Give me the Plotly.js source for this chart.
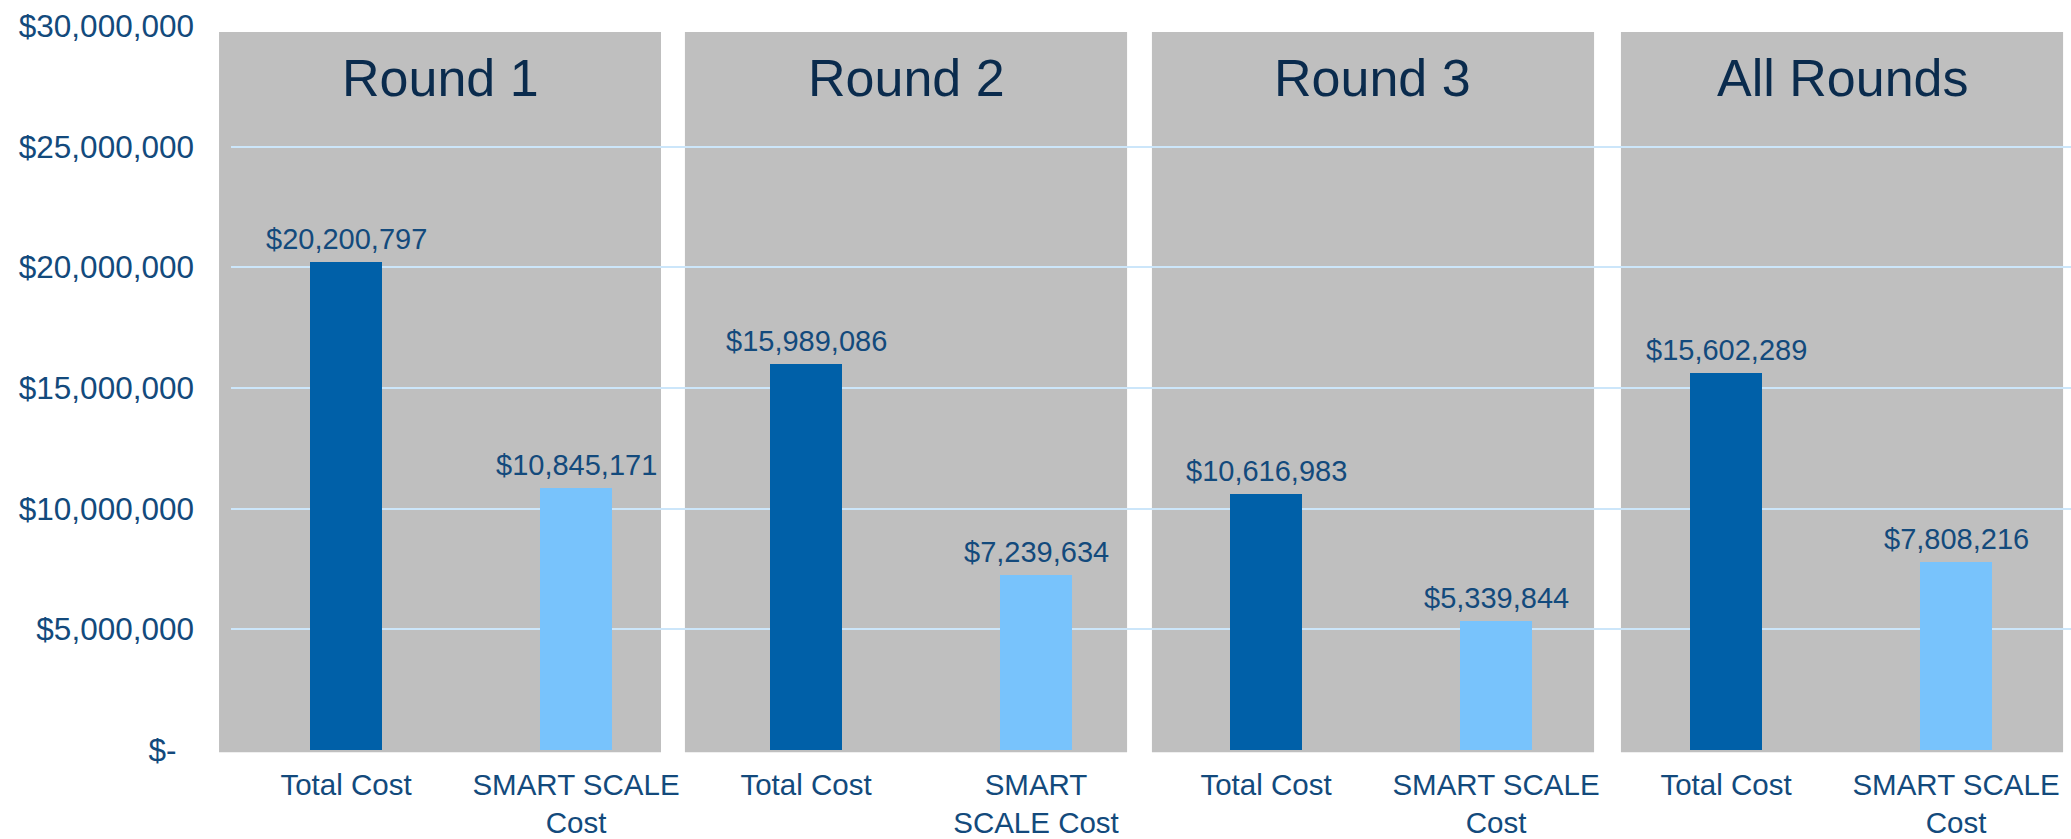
<!DOCTYPE html>
<html>
<head>
<meta charset="utf-8">
<script src="https://cdn.plot.ly/plotly-3.0.1.min.js"></script>
<style>
  html, body { margin: 0; padding: 0; background: #ffffff; }
  #chart { width: 2071px; height: 839px; }
</style>
</head>
<body>
<div id="chart"></div>
<script>
// ---- data ----
const rounds = ['Round 1', 'Round 2', 'Round 3', 'All Rounds'];
const totalCost = [20200797, 15989086, 10616983, 15602289];
const smartScaleCost = [10845171, 7239634, 5339844, 7808216];
const totalLabels = ['Total Cost', 'Total Cost', 'Total Cost', 'Total Cost'];
const smartLabels = ['SMART SCALE<br>Cost', 'SMART<br>SCALE Cost', 'SMART SCALE<br>Cost', 'SMART SCALE<br>Cost'];
const yTickVals = [0, 5000000, 10000000, 15000000, 20000000, 25000000, 30000000];
const yTickText = ['$-\u00a0\u00a0', '$5,000,000', '$10,000,000', '$15,000,000', '$20,000,000', '$25,000,000', '$30,000,000'];

// ---- style ----
const FONT = '"Liberation Sans", Arial, sans-serif';
const C_TOTAL = '#0060a8';
const C_SMART = '#78c3fc';
const C_PANEL = '#bfbfbf';
const C_GRID = '#cce6fa';
const C_TEXT = '#134a7c';
const C_TITLE = '#0a2b4d';

const fmt = v => '$' + v.toLocaleString('en-US');

const xTotal = rounds.map((_, i) => 2 * i);
const xSmart = rounds.map((_, i) => 2 * i + 1);

const traces = [
  { type: 'bar', x: xTotal, y: totalCost, width: 0.317, marker: { color: C_TOTAL }, hoverinfo: 'none', name: 'Total Cost' },
  { type: 'bar', x: xSmart, y: smartScaleCost, width: 0.317, marker: { color: C_SMART }, hoverinfo: 'none', name: 'SMART SCALE Cost' }
];

// panels (paper coords)
const panelX = [[-0.0065, 0.2337], [0.2467, 0.4870], [0.5005, 0.7408], [0.7554, 0.9957]];
const shapes = panelX.map(p => ({
  type: 'rect', xref: 'paper', yref: 'paper', x0: p[0], x1: p[1], y0: -0.003, y1: 0.9917,
  fillcolor: C_PANEL, line: { width: 0 }, layer: 'below'
}));

const annotations = [];
rounds.forEach((r, i) => {
  annotations.push({
    xref: 'paper', yref: 'paper', x: (panelX[i][0] + panelX[i][1]) / 2, y: (750 - 78) / 724,
    text: r, showarrow: false, xanchor: 'center', yanchor: 'middle',
    font: { family: FONT, size: 52, color: C_TITLE }
  });
});
const addLabel = (x, v) => annotations.push({
  x: x, y: v, xref: 'x', yref: 'y', text: fmt(v), showarrow: false,
  xanchor: 'center', yanchor: 'bottom', yshift: 5,
  font: { family: FONT, size: 29, color: C_TEXT }
});
xTotal.forEach((x, i) => addLabel(x, totalCost[i]));
xSmart.forEach((x, i) => addLabel(x, smartScaleCost[i]));

const tickVals = [], tickText = [];
rounds.forEach((_, i) => {
  tickVals.push(xTotal[i], xSmart[i]);
  tickText.push(totalLabels[i], smartLabels[i]);
});

const layout = {
  width: 2071, height: 839,
  margin: { l: 231, r: 0, t: 26, b: 89, pad: 0 },
  paper_bgcolor: '#ffffff', plot_bgcolor: 'rgba(0,0,0,0)',
  showlegend: false,
  bargap: 0,
  xaxis: {
    type: 'linear', range: [-0.5, 7.5], tickvals: tickVals, ticktext: tickText,
    showgrid: false, zeroline: false, showline: false, ticks: '',
    tickfont: { family: FONT, size: 29.5, color: C_TEXT }, tickangle: 0,
    ticklabelstandoff: 14, fixedrange: true
  },
  yaxis: {
    range: [0, 30000000], tickvals: yTickVals, ticktext: yTickText,
    showgrid: true, gridcolor: C_GRID, gridwidth: 2, zeroline: false, showline: false, ticks: '',
    tickfont: { family: FONT, size: 31.5, color: C_TEXT }, ticklabelstandoff: 36, fixedrange: true
  },
  shapes: shapes,
  annotations: annotations,
  font: { family: FONT, color: C_TEXT }
};

Plotly.newPlot('chart', traces, layout, { displayModeBar: false, staticPlot: true });
</script>
</body>
</html>
